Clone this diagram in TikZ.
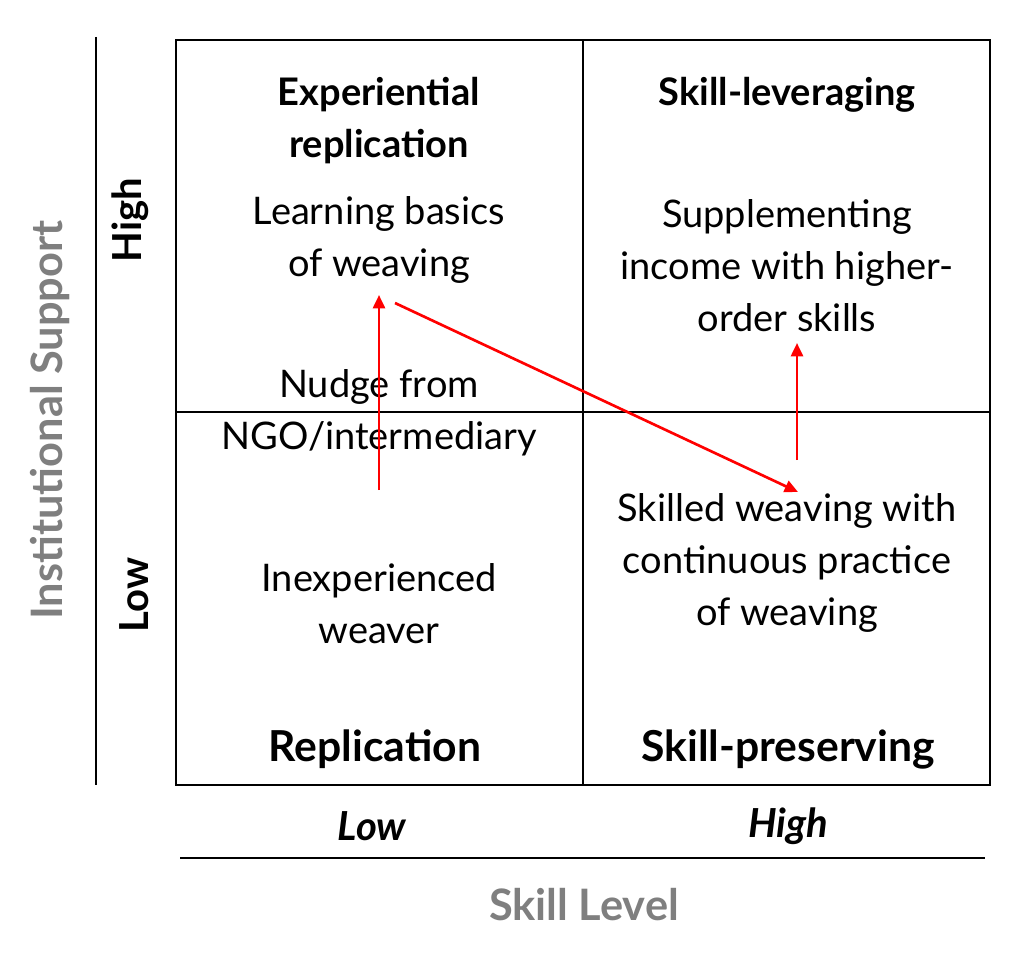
\documentclass[tikz,border=0pt]{standalone}
\usepackage{fontspec}
\setmainfont{Lato}
\usepackage{xcolor}
\usetikzlibrary{arrows.meta, positioning}
\definecolor{axisgray}{HTML}{7F7F7F}
\tikzset{
    celltext/.style={
        align=center,
        font=\fontsize{28.5}{39}\selectfont,
        inner sep=0pt,
    },
    celltitle/.style={
        align=center,
        font=\fontsize{28.5}{39}\selectfont\bfseries,
        inner sep=0pt,
    },
    quadname/.style={
        font=\fontsize{32}{36}\selectfont\bfseries,
        inner sep=0pt,
    },
    levellabel/.style={
        font=\fontsize{30}{34}\selectfont\bfseries,
        inner sep=0pt,
    },
    axislabel/.style={
        font=\fontsize{32.5}{36}\selectfont\bfseries,
        text=axisgray,
        inner sep=0pt,
    },
    move/.style={
        red,
        line width=2pt,
        -{Triangle[length=10pt,width=9pt]},
    },
}

\begin{document}
\begin{tikzpicture}[x=0.75pt, y=-0.75pt]
      \useasboundingbox (0,0) rectangle (1024,974);

      % grid
      \draw[line width=1.5pt] (176,40) rectangle (990,785);
      \draw[line width=1.5pt] (583,40) -- (583,785);
      \draw[line width=1.5pt] (176,412) -- (990,412);
      \draw[line width=1.5pt] (96,37) -- (96,785);
      \draw[line width=1.5pt] (180,858) -- (985,858);

      % axes
      \node[axislabel, rotate=90] (ylab) at (50,420) {Institutional Support};
      \node[levellabel, rotate=90] (yhigh) at (130,220) {High};
      \node[levellabel, rotate=90] (ylow) at (134,595) {Low};
      \node[levellabel, font=\fontsize{30}{34}\selectfont\bfseries\itshape] (xlow) at (372,826) {Low};
      \node[levellabel, font=\fontsize{30}{34}\selectfont\bfseries\itshape] (xhigh) at (788,826) {High};
      \node[axislabel] (xlab) at (584,905) {Skill Level};

      % quadrants
      \node[celltitle] (exprep) at (379,121) {Experiential\\replication};
      \node[celltitle] (skilllev) at (787,95) {Skill-leveraging};
      \node[quadname] (rep) at (375,749) {Replication};
      \node[quadname] (skillpres) at (788,749) {Skill-preserving};

      \node[celltext] (learn) at (379,240) {Learning basics\\of weaving};
      \node[celltext] (supp) at (787,266) {Supplementing\\income with higher-\\order skills};
      \node[celltext] (nudge) at (379,413) {Nudge from\\NGO/intermediary};
      \node[celltext] (skilled) at (787,563) {Skilled weaving with\\continuous practice\\of weaving};
      \node[celltext] (inexp) at (379,604) {Inexperienced\\weaver};

      % moves
      \coordinate (a0) at (379,490);
      \coordinate (a1) at (379,295);
      \coordinate (b0) at (395,303);
      \coordinate (b1) at (798,492);
      \coordinate (c0) at (797,460);
      \coordinate (c1) at (797,343);
      \draw[move] (a0) -- (a1);
      \draw[move] (b0) -- (b1);
      \draw[move] (c0) -- (c1);
    \end{tikzpicture}
\end{document}
